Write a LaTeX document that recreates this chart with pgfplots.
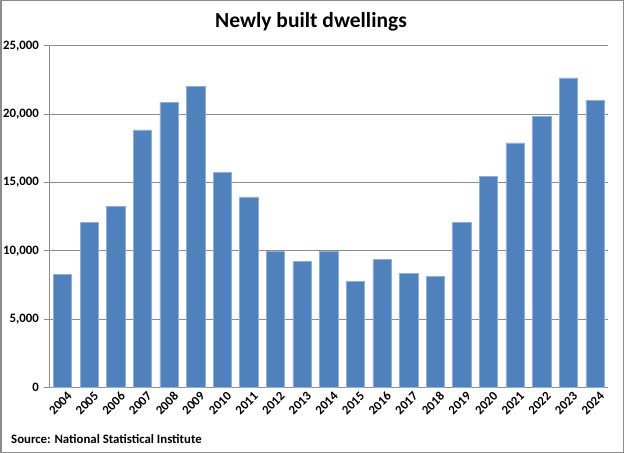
\documentclass[border=0pt]{standalone}
\usepackage{pgfplots}
\pgfplotsset{compat=1.18}
\usepackage{fontspec}
\setmainfont{Carlito}
\definecolor{barblue}{HTML}{4F81BD}
\definecolor{baredge}{HTML}{8EAEDB}
\definecolor{gridgray}{HTML}{8C8C8C}
\begin{document}
\begin{tikzpicture}
\path[use as bounding box] (0,0) rectangle (624bp,453bp);
\draw[gridgray, line width=1.5bp] (0.75bp,0.75bp) rectangle (623.25bp,452.25bp);
\begin{axis}[
  at={(49.3bp,65.3bp)}, anchor=south west,
  scale only axis, width=559bp, height=342bp,
  xmin=-0.5, xmax=20.5, ymin=0, ymax=25000,
  axis lines*=left,
  axis line style={gridgray, line width=0.8bp},
  ymajorgrids, grid style={gridgray, line width=0.8bp},
  ytick={0,5000,10000,15000,20000,25000},
  scaled y ticks=false,
  /pgf/number format/1000 sep={,},
  /pgf/number format/assume math mode=true,
  xtick={0,...,20},
  xticklabels={2004,2005,2006,2007,2008,2009,2010,2011,2012,2013,2014,2015,2016,2017,2018,2019,2020,2021,2022,2023,2024},
  minor xtick={-0.5,0.5,...,20.5},
  x tick style={draw=none},
  minor x tick style={gridgray, line width=0.8bp},
  minor tick length=4bp,
  y tick style={gridgray, line width=0.8bp},
  major tick length=5bp,
  tick align=outside,
  ticklabel style={font=\fontsize{12.8bp}{15bp}\selectfont\bfseries},
  yticklabel style={xshift=-2bp},
  xticklabel style={rotate=45, anchor=east, inner sep=1pt, xshift=5bp, yshift=-6bp},
  clip=false,
]
\addplot[ybar, bar width=0.69, fill=barblue, draw=baredge, line width=0.6bp] coordinates {
(0,8270) (1,12060) (2,13280) (3,18850) (4,20880) (5,22050) (6,15740)
(7,13940) (8,9980) (9,9250) (10,10000) (11,7790) (12,9350) (13,8370)
(14,8150) (15,12100) (16,15420) (17,17900) (18,19830) (19,22650) (20,21000)
};
\end{axis}
\node[anchor=base, font=\fontsize{21.5bp}{25bp}\selectfont\bfseries] at (311bp,425.7bp) {Newly built dwellings};
\node[anchor=base west, inner sep=0pt, font=\fontsize{12.8bp}{15bp}\selectfont\bfseries] at (11bp,9.7bp) {Source: National Statistical Institute};
\end{tikzpicture}
\end{document}
